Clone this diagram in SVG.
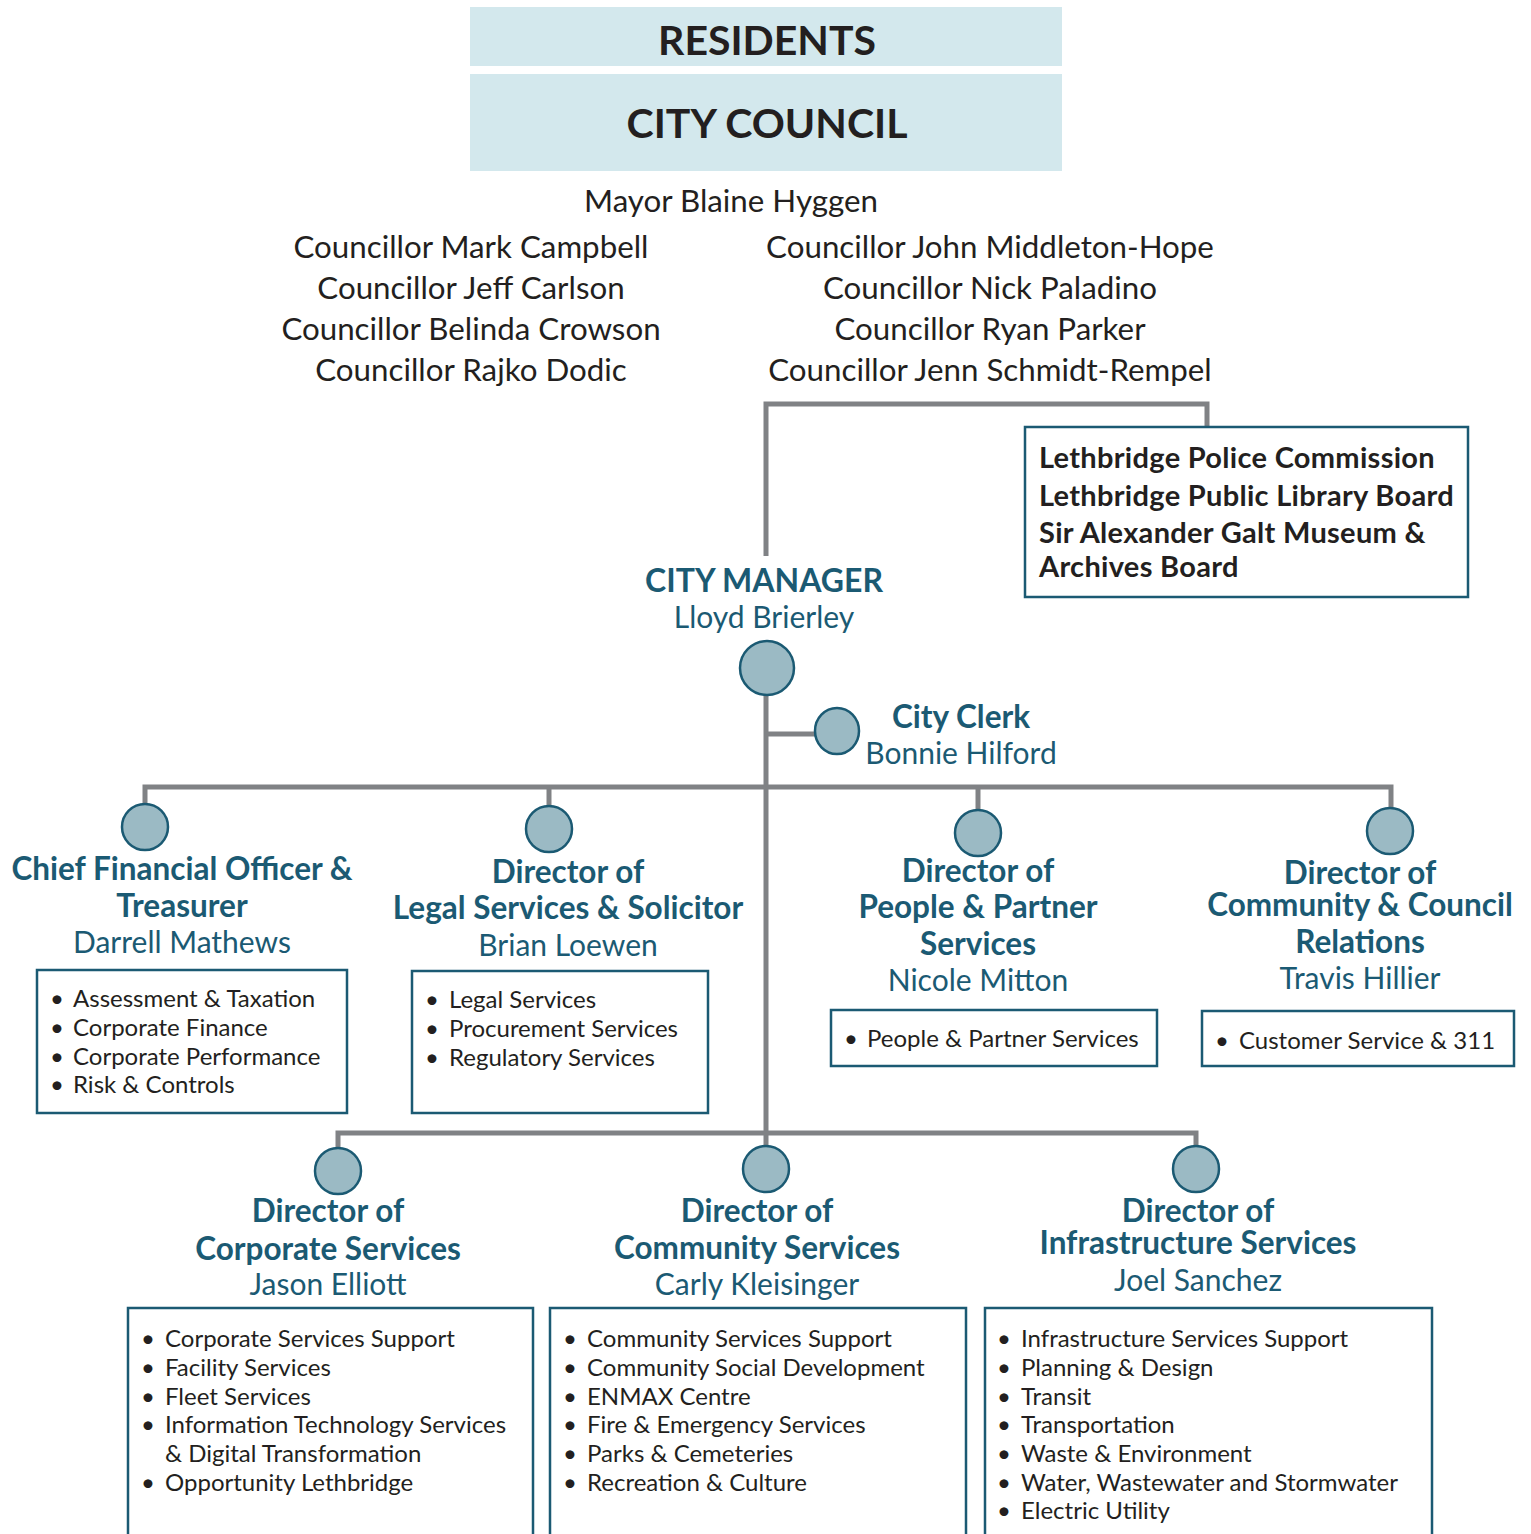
<svg xmlns="http://www.w3.org/2000/svg" width="1531" height="1534" viewBox="0 0 1531 1534">
<style>
text{font-family:Lato,"Liberation Sans",sans-serif;}
.hdr{fill:#d3e8ed;}
.hdrt{font-size:41px;font-weight:bold;fill:#231f20;text-anchor:middle;}
.cn{font-size:31.3px;fill:#231f20;text-anchor:middle;}
.title{font-size:31.5px;font-weight:bold;fill:#1b5a73;text-anchor:middle;}
.cm{font-size:32px;}
.name{font-size:30px;fill:#1b5a73;text-anchor:middle;}
.box{fill:#fff;stroke:#1b5a73;stroke-width:2.5;}
.item{font-size:24px;fill:#231f20;}
.board{font-size:29px;font-weight:bold;fill:#231f20;letter-spacing:0.3px;}
.dot{fill:#9bbac4;stroke:#1b5a73;stroke-width:2.5;}
.ln{fill:none;stroke:#808285;stroke-width:5;}
</style>
<rect width="1531" height="1534" fill="#fff"/>
<g id="connectors">
<path class="ln" d="M766 556 V404 H1207 V426"/>
<path class="ln" d="M766 694 V1145"/>
<path class="ln" d="M766 734 H815"/>
<path class="ln" d="M145 805 V787 H1391 V810"/>
<path class="ln" d="M549 787 V806"/>
<path class="ln" d="M978 787 V810"/>
<path class="ln" d="M338 1148 V1133 H1196 V1146"/>
</g>
<g id="residents">
<rect class="hdr" x="470" y="7" width="592" height="59"/>
<text class="hdrt" x="767" y="55">RESIDENTS</text>
</g>
<g id="city-council">
<rect class="hdr" x="470" y="74" width="592" height="97"/>
<text class="hdrt" x="767" y="138">CITY COUNCIL</text>
<text class="cn" x="731" y="212">Mayor Blaine Hyggen</text>
<text class="cn" x="471" y="258">Councillor Mark Campbell</text>
<text class="cn" x="471" y="299">Councillor Jeff Carlson</text>
<text class="cn" x="471" y="340">Councillor Belinda Crowson</text>
<text class="cn" x="471" y="381">Councillor Rajko Dodic</text>
<text class="cn" x="990" y="258">Councillor John Middleton-Hope</text>
<text class="cn" x="990" y="299">Councillor Nick Paladino</text>
<text class="cn" x="990" y="340">Councillor Ryan Parker</text>
<text class="cn" x="990" y="381">Councillor Jenn Schmidt-Rempel</text>
</g>
<g id="boards">
<rect class="box" x="1025" y="427" width="443" height="170"/>
<text class="board" x="1039" y="468">Lethbridge Police Commission</text>
<text class="board" x="1039" y="506">Lethbridge Public Library Board</text>
<text class="board" x="1039" y="543">Sir Alexander Galt Museum &amp;</text>
<text class="board" x="1039" y="577">Archives Board</text>
</g>
<g id="city-manager">
<text class="title cm" x="764" y="592">CITY MANAGER</text>
<text class="name" x="764" y="628">Lloyd Brierley</text>
<ellipse class="dot" cx="767" cy="668" rx="27" ry="27"/>
</g>
<g id="city-clerk">
<ellipse class="dot" cx="837" cy="731" rx="22" ry="23"/>
<text class="title" x="961" y="728">City Clerk</text>
<text class="name" x="961" y="764">Bonnie Hilford</text>
</g>
<g id="cfo">
<ellipse class="dot" cx="145" cy="827" rx="23" ry="23"/>
<text class="title" x="182" y="880">Chief Financial Officer &amp;</text>
<text class="title" x="182" y="917">Treasurer</text>
<text class="name" x="182" y="953">Darrell Mathews</text>
<rect class="box" x="37" y="970" width="310" height="143"/>
<text class="item" x="50" y="1007">•</text><text class="item" x="73" y="1007">Assessment &amp; Taxation</text>
<text class="item" x="50" y="1036">•</text><text class="item" x="73" y="1036">Corporate Finance</text>
<text class="item" x="50" y="1065">•</text><text class="item" x="73" y="1065">Corporate Performance</text>
<text class="item" x="50" y="1093">•</text><text class="item" x="73" y="1093">Risk &amp; Controls</text>
</g>
<g id="legal">
<ellipse class="dot" cx="549" cy="829" rx="23" ry="23"/>
<text class="title" x="568" y="883">Director of</text>
<text class="title" x="568" y="919">Legal Services &amp; Solicitor</text>
<text class="name" x="568" y="956">Brian Loewen</text>
<rect class="box" x="412" y="971" width="296" height="142"/>
<text class="item" x="425" y="1008">•</text><text class="item" x="449" y="1008">Legal Services</text>
<text class="item" x="425" y="1037">•</text><text class="item" x="449" y="1037">Procurement Services</text>
<text class="item" x="425" y="1066">•</text><text class="item" x="449" y="1066">Regulatory Services</text>
</g>
<g id="people">
<ellipse class="dot" cx="978" cy="833" rx="23" ry="23"/>
<text class="title" x="978" y="882">Director of</text>
<text class="title" x="978" y="918">People &amp; Partner</text>
<text class="title" x="978" y="955">Services</text>
<text class="name" x="978" y="991">Nicole Mitton</text>
<rect class="box" x="831" y="1010" width="326" height="56"/>
<text class="item" x="844" y="1047">•</text><text class="item" x="867" y="1047">People &amp; Partner Services</text>
</g>
<g id="community-council">
<ellipse class="dot" cx="1390" cy="831" rx="23" ry="23"/>
<text class="title" x="1360" y="884">Director of</text>
<text class="title" x="1360" y="916">Community &amp; Council</text>
<text class="title" x="1360" y="953">Relations</text>
<text class="name" x="1360" y="989">Travis Hillier</text>
<rect class="box" x="1202" y="1011" width="312" height="55"/>
<text class="item" x="1215" y="1049">•</text><text class="item" x="1239" y="1049">Customer Service &amp; 311</text>
</g>
<g id="corporate">
<ellipse class="dot" cx="338" cy="1171" rx="23" ry="23"/>
<text class="title" x="328" y="1222">Director of</text>
<text class="title" x="328" y="1260">Corporate Services</text>
<text class="name" x="328" y="1295">Jason Elliott</text>
<rect class="box" x="128" y="1308" width="405" height="240"/>
<text class="item" x="141" y="1347">•</text><text class="item" x="165" y="1347">Corporate Services Support</text>
<text class="item" x="141" y="1376">•</text><text class="item" x="165" y="1376">Facility Services</text>
<text class="item" x="141" y="1405">•</text><text class="item" x="165" y="1405">Fleet Services</text>
<text class="item" x="141" y="1433">•</text><text class="item" x="165" y="1433">Information Technology Services</text>
<text class="item" x="165" y="1462">&amp; Digital Transformation</text>
<text class="item" x="141" y="1491">•</text><text class="item" x="165" y="1491">Opportunity Lethbridge</text>
</g>
<g id="community">
<ellipse class="dot" cx="766" cy="1169" rx="23" ry="23"/>
<text class="title" x="757" y="1222">Director of</text>
<text class="title" x="757" y="1259">Community Services</text>
<text class="name" x="757" y="1295">Carly Kleisinger</text>
<rect class="box" x="550" y="1308" width="416" height="240"/>
<text class="item" x="563" y="1347">•</text><text class="item" x="587" y="1347">Community Services Support</text>
<text class="item" x="563" y="1376">•</text><text class="item" x="587" y="1376">Community Social Development</text>
<text class="item" x="563" y="1405">•</text><text class="item" x="587" y="1405">ENMAX Centre</text>
<text class="item" x="563" y="1433">•</text><text class="item" x="587" y="1433">Fire &amp; Emergency Services</text>
<text class="item" x="563" y="1462">•</text><text class="item" x="587" y="1462">Parks &amp; Cemeteries</text>
<text class="item" x="563" y="1491">•</text><text class="item" x="587" y="1491">Recreation &amp; Culture</text>
</g>
<g id="infrastructure">
<ellipse class="dot" cx="1196" cy="1169" rx="23" ry="23"/>
<text class="title" x="1198" y="1222">Director of</text>
<text class="title" x="1198" y="1254">Infrastructure Services</text>
<text class="name" x="1198" y="1291">Joel Sanchez</text>
<rect class="box" x="985" y="1308" width="447" height="240"/>
<text class="item" x="997" y="1347">•</text><text class="item" x="1021" y="1347">Infrastructure Services Support</text>
<text class="item" x="997" y="1376">•</text><text class="item" x="1021" y="1376">Planning &amp; Design</text>
<text class="item" x="997" y="1405">•</text><text class="item" x="1021" y="1405">Transit</text>
<text class="item" x="997" y="1433">•</text><text class="item" x="1021" y="1433">Transportation</text>
<text class="item" x="997" y="1462">•</text><text class="item" x="1021" y="1462">Waste &amp; Environment</text>
<text class="item" x="997" y="1491">•</text><text class="item" x="1021" y="1491">Water, Wastewater and Stormwater</text>
<text class="item" x="997" y="1519">•</text><text class="item" x="1021" y="1519">Electric Utility</text>
</g>
</svg>
